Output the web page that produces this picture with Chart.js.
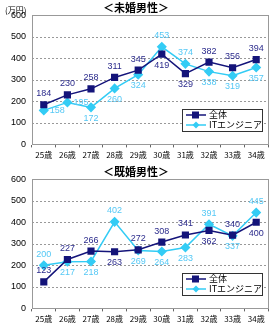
<!DOCTYPE html>
<html>
<head>
<meta charset="utf-8">
<script src="https://cdn.jsdelivr.net/npm/chart.js@4.4.1/dist/chart.umd.min.js"></script>
<style>
  body { margin: 0; background: #fff; }
  .box { position: absolute; left: 0; width: 280px; }
</style>
</head>
<body>
<div class="box" style="top:0;height:164px"><canvas id="chartSingle"></canvas></div>
<div class="box" style="top:164px;height:163px"><canvas id="chartMarried"></canvas></div>
<script>
const ages = ['25歳','26歳','27歳','28歳','29歳','30歳','31歳','32歳','33歳','34歳'];
const yTicks = [0, 100, 200, 300, 400, 500, 600];

// 未婚男性
const singleAll = [184, 230, 258, 311, 345, 419, 329, 382, 356, 394];
const singleIT  = [158, 195, 172, 260, 324, 453, 374, 338, 319, 357];
// 既婚男性
const marriedAll = [123, 227, 266, 263, 272, 308, 341, 362, 340, 400];
const marriedIT  = [200, 217, 218, 402, 269, 264, 283, 391, 337, 445];

// where each value label sits: a = above, b = below, r = right
const singleAllPos  = ['a','a','a','a','a','b','b','a','a','a'];
const singleITPos   = ['r','r','b','b','b','a','a','b','b','b'];
const marriedAllPos = ['a','a','a','b','a','a','a','b','a','b'];
const marriedITPos  = ['a','b','b','a','b','b','b','a','b','a'];

const navy = '#14147a';
const cyan = '#33ccf5';
const font = 'Liberation Sans, DejaVu Sans, sans-serif';
const jpFont = '"Noto Sans CJK JP", sans-serif';

const valueLabels = {
  id: 'valueLabels',
  afterDatasetsDraw(chart) {
    const ctx = chart.ctx;
    ctx.save();
    ctx.font = '9px ' + font;
    ctx.textBaseline = 'middle';
    chart.data.datasets.forEach((ds, i) => {
      const meta = chart.getDatasetMeta(i);
      ctx.fillStyle = ds.labelColor;
      meta.data.forEach((pt, j) => {
        const p = ds.labelPos[j];
        let x = pt.x, y = pt.y;
        ctx.textAlign = 'center';
        if (p === 'a') y -= 11;
        else if (p === 'b') y += 11;
        else { x += 6; ctx.textAlign = 'left'; }
        ctx.fillText(ds.data[j], x, y);
      });
    });
    ctx.restore();
  }
};

// dashed horizontal grid plus a grey frame round the plot
const plotFrame = {
  id: 'plotFrame',
  beforeDatasetsDraw(chart) {
    const ctx = chart.ctx;
    const a = chart.chartArea;
    const ys = chart.scales.y;
    const l = Math.round(a.left), r = Math.round(a.right);
    ctx.save();
    ctx.strokeStyle = '#999';
    ctx.lineWidth = 1;
    ctx.setLineDash([2, 2]);
    yTicks.forEach(v => {
      const y = Math.round(ys.getPixelForValue(v)) + 0.5;
      ctx.beginPath();
      ctx.moveTo(l, y);
      ctx.lineTo(r, y);
      ctx.stroke();
    });
    ctx.setLineDash([]);
    ctx.strokeRect(l + 0.5, Math.round(a.top) + 0.5, r - l, Math.round(a.bottom - a.top));
    ctx.restore();
  }
};

const boxLegend = {
  id: 'boxLegend',
  afterDraw(chart) {
    const ctx = chart.ctx;
    const a = chart.chartArea;
    const w = 80, h = 22;
    const x0 = Math.round(a.right - w - 6), y0 = Math.round(a.bottom - h - 13);
    ctx.save();
    ctx.fillStyle = '#fff';
    ctx.fillRect(x0, y0, w, h);
    ctx.strokeStyle = '#333';
    ctx.lineWidth = 1;
    ctx.strokeRect(x0 + 0.5, y0 + 0.5, w, h);
    ctx.font = '9px ' + jpFont;
    ctx.textBaseline = 'middle';
    chart.data.datasets.forEach((ds, i) => {
      const y = y0 + 6 + i * 10;
      ctx.strokeStyle = ds.borderColor;
      ctx.lineWidth = 1.5;
      ctx.beginPath();
      ctx.moveTo(x0 + 4, y);
      ctx.lineTo(x0 + 24, y);
      ctx.stroke();
      ctx.fillStyle = ds.borderColor;
      if (i === 0) {
        ctx.fillRect(x0 + 10, y - 3.5, 7, 7);
      } else {
        ctx.beginPath();
        ctx.moveTo(x0 + 14, y - 3.5);
        ctx.lineTo(x0 + 17.5, y);
        ctx.lineTo(x0 + 14, y + 3.5);
        ctx.lineTo(x0 + 10.5, y);
        ctx.closePath();
        ctx.fill();
      }
      ctx.fillStyle = '#000';
      ctx.fillText(ds.label, x0 + 27, y);
    });
    ctx.restore();
  }
};

const unitLabel = {
  id: 'unitLabel',
  afterDraw(chart) {
    if (!chart.options.plugins.unitLabel.show) return;
    const ctx = chart.ctx;
    ctx.save();
    ctx.font = '8px ' + jpFont;
    ctx.fillStyle = '#000';
    ctx.textBaseline = 'middle';
    ctx.fillText('(万円)', 5, 10);
    ctx.restore();
  }
};

function makeChart(id, title, allData, itData, allPos, itPos, showUnit, bottomPad) {
  new Chart(document.getElementById(id), {
    type: 'line',
    data: {
      labels: ages,
      datasets: [{
        label: '全体',
        data: allData,
        borderColor: navy,
        backgroundColor: navy,
        borderWidth: 1.5,
        pointStyle: 'rect',
        pointRadius: 4,
        labelColor: '#2b2b8c',
        labelPos: allPos
      }, {
        label: 'ITエンジニア',
        data: itData,
        borderColor: cyan,
        backgroundColor: cyan,
        borderWidth: 1.5,
        pointStyle: 'rectRot',
        pointRadius: 4,
        labelColor: '#55c8f5',
        labelPos: itPos
      }]
    },
    plugins: [plotFrame, valueLabels, boxLegend, unitLabel],
    options: {
      animation: false,
      responsive: true,
      maintainAspectRatio: false,
      layout: { padding: { left: 4, right: 12, top: 0, bottom: bottomPad } },
      plugins: {
        legend: { display: false },
        tooltip: { enabled: false },
        unitLabel: { show: showUnit },
        title: {
          display: true,
          text: title,
          color: '#000',
          font: { family: jpFont, size: 11, weight: 'bold' },
          padding: { top: 1, bottom: 1 }
        }
      },
      scales: {
        x: {
          offset: true,
          grid: { offset: true, drawOnChartArea: false, tickLength: 3, color: '#666' },
          border: { color: '#999' },
          ticks: { color: '#000', font: { family: jpFont, size: 8 }, maxRotation: 0, padding: 3 }
        },
        y: {
          min: 0,
          max: 600,
          afterBuildTicks(axis) { axis.ticks = yTicks.map(v => ({ value: v })); },
          afterFit(axis) { axis.width = 28; },
          grid: { drawOnChartArea: false, drawTicks: false },
          border: { color: '#999' },
          ticks: { color: '#000', font: { family: font, size: 9 }, padding: 6 }
        }
      }
    }
  });
}

makeChart('chartSingle', '＜未婚男性＞', singleAll, singleIT, singleAllPos, singleITPos, true, 1);
makeChart('chartMarried', '＜既婚男性＞', marriedAll, marriedIT, marriedAllPos, marriedITPos, false, 0);
</script>
</body>
</html>
